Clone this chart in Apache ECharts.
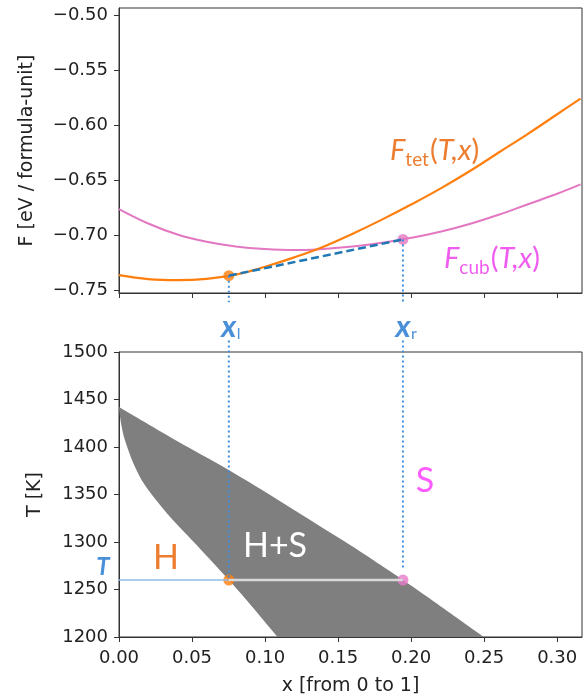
<!DOCTYPE html>
<html lang="en">
<head>
<meta charset="UTF-8">
<title>Free energy and phase diagram</title>
<script src="https://cdn.jsdelivr.net/npm/echarts@6.0.0/dist/echarts.min.js"></script>
<style>
    body { margin: 0; background: #fff; }
    #chart { width: 588px; height: 700px; }
</style>
</head>
<body>
<div id="chart"></div>
<script>
    // composition grid for the two free energy curves (top panel)
    var xs = [0, 0.02, 0.04, 0.06, 0.08, 0.10, 0.12, 0.14, 0.16, 0.18, 0.20, 0.22, 0.24, 0.26, 0.28, 0.30, 0.316];
    var fTet = [-0.7364, -0.7400, -0.7410, -0.7398, -0.7360, -0.7288, -0.7203, -0.7106, -0.6988, -0.6860,
        -0.6723, -0.6578, -0.6420, -0.6250, -0.6080, -0.5902, -0.5760];
    var fCub = [-0.6764, -0.6895, -0.6995, -0.7062, -0.7105, -0.7128, -0.7137, -0.7126, -0.7104, -0.7071,
        -0.7025, -0.6970, -0.6900, -0.6815, -0.6720, -0.6625, -0.6540];

    // edges of the two-phase region (bottom panel)
    var hEdgeX = [0, 0.0008, 0.0020, 0.0041, 0.0098, 0.0168, 0.0270, 0.0388, 0.0530, 0.0752, 0.0900, 0.1085];
    var hEdgeT = [1442, 1431, 1420, 1407, 1383, 1362, 1341, 1320, 1297, 1260, 1234, 1200];
    var sEdgeX = [0, 0.0156, 0.0400, 0.0749, 0.1103, 0.1320, 0.1561, 0.1789, 0.1944, 0.2132, 0.2315, 0.2497];
    var sEdgeT = [1442, 1428, 1406, 1376, 1343, 1322, 1299, 1276, 1260, 1240, 1220, 1200];

    // common tangent at T = 1260 K
    var xL = 0.0752, xR = 0.1944;
    var fL = -0.7370, fR = -0.7040;
    var tieT = 1260;

    var xTicks = [0, 0.05, 0.10, 0.15, 0.20, 0.25, 0.30];
    var fTicks = [-0.75, -0.70, -0.65, -0.60, -0.55, -0.50];

    var ink = '#222';
    var tickFont = 'DejaVu Sans';

    function zip(a, b) {
        var out = [];
        for (var i = 0; i < a.length; i++) out.push([a[i], b[i]]);
        return out;
    }

    var sEdge = zip(sEdgeX, sEdgeT);
    var hEdge = zip(hEdgeX, hEdgeT).reverse();
    var hull = sEdge.concat(hEdge);

    // catmull-rom through pixel points so each edge is drawn smooth, corners stay sharp
    function smoothEdge(pts, steps) {
        var out = [];
        var n = pts.length;
        for (var i = 0; i < n - 1; i++) {
            var p0 = pts[Math.max(i - 1, 0)], p1 = pts[i], p2 = pts[i + 1], p3 = pts[Math.min(i + 2, n - 1)];
            for (var k = 0; k < steps; k++) {
                var t = k / steps, t2 = t * t, t3 = t2 * t;
                var pt = [0, 1].map(function (d) {
                    return 0.5 * (2 * p1[d] + (-p0[d] + p2[d]) * t + (2 * p0[d] - 5 * p1[d] + 4 * p2[d] - p3[d]) * t2 +
                        (-p0[d] + 3 * p1[d] - 3 * p2[d] + p3[d]) * t3);
                });
                out.push(pt);
            }
        }
        out.push(pts[n - 1]);
        return out;
    }

    function xAxisFor(grid, withLabels) {
        var ax = {
            gridIndex: grid, type: 'value', min: 0, max: 0.317,
            axisLine: {show: true, onZero: false, lineStyle: {color: '#333'}},
            axisTick: {show: true, length: 5, customValues: xTicks, lineStyle: {color: '#333'}},
            axisLabel: {show: false},
            splitLine: {show: false}
        };
        if (withLabels) {
            ax.axisLabel = {
                show: true, customValues: xTicks, margin: 12,
                fontFamily: tickFont, fontSize: 18, color: ink,
                formatter: function (v) { return v.toFixed(2); }
            };
            ax.name = 'x [from 0 to 1]';
            ax.nameLocation = 'middle';
            ax.nameGap = 40;
            ax.nameTextStyle = {fontFamily: tickFont, fontSize: 19, color: ink};
        }
        return ax;
    }

    var chart = echarts.init(document.getElementById('chart'));

    var option = {
        animation: false,
        grid: [
            {left: 119, right: 6, top: 8, height: 285, show: true, borderColor: '#333', borderWidth: 1},
            {left: 119, right: 6, top: 352, height: 285, show: true, borderColor: '#333', borderWidth: 1}
        ],
        xAxis: [xAxisFor(0, false), xAxisFor(1, true)],
        yAxis: [
            {
                gridIndex: 0, type: 'value', min: -0.7527, max: -0.4936,
                axisLine: {show: true, onZero: false, lineStyle: {color: '#333'}},
                axisTick: {show: true, length: 5, customValues: fTicks, lineStyle: {color: '#333'}},
                axisLabel: {
                    customValues: fTicks, margin: 11, fontFamily: tickFont, fontSize: 18, color: ink,
                    formatter: function (v) { return v.toFixed(2).replace('-', '\u2212'); }
                },
                splitLine: {show: false},
                name: 'F [eV / formula-unit]', nameLocation: 'middle', nameGap: 82,
                nameTextStyle: {fontFamily: tickFont, fontSize: 19, color: ink}
            },
            {
                gridIndex: 1, type: 'value', min: 1200, max: 1500, interval: 50,
                axisLine: {show: true, onZero: false, lineStyle: {color: '#333'}},
                axisTick: {show: true, length: 5, lineStyle: {color: '#333'}},
                axisLabel: {
                    margin: 11, fontFamily: tickFont, fontSize: 18, color: ink,
                    formatter: function (v) { return String(v); }
                },
                splitLine: {show: false},
                name: 'T [K]', nameLocation: 'middle', nameGap: 74,
                nameTextStyle: {fontFamily: tickFont, fontSize: 19, color: ink}
            }
        ],
        series: [
            {
                type: 'custom', xAxisIndex: 1, yAxisIndex: 1, data: hull, silent: true, clip: true,
                renderItem: function (params, api) {
                    if (params.dataIndex !== 0) return null;
                    var a = smoothEdge(sEdge.map(function (p) { return api.coord(p); }), 8);
                    var b = smoothEdge(hEdge.map(function (p) { return api.coord(p); }), 8);
                    return {type: 'polygon', shape: {points: a.concat(b)}, style: {fill: '#7f7f7f'}};
                }
            },
            {
                type: 'line', xAxisIndex: 0, yAxisIndex: 0, data: zip(xs, fCub), smooth: 0.4,
                showSymbol: false, lineStyle: {color: '#e377c2', width: 2}
            },
            {
                type: 'line', xAxisIndex: 0, yAxisIndex: 0, data: zip(xs, fTet), smooth: 0.4,
                showSymbol: false, lineStyle: {color: '#ff7f0e', width: 2.2}
            },
            {
                type: 'line', xAxisIndex: 0, yAxisIndex: 0, data: [[xL, fL], [xR, fR]],
                showSymbol: false, lineStyle: {color: '#1f77b4', width: 2.5, type: [8, 4]}
            },
            // dotted guides from the tangent points down to the phase diagram
            {
                type: 'line', xAxisIndex: 0, yAxisIndex: 0, data: [[xL, fL], [xL, -0.761]], clip: false,
                showSymbol: false, lineStyle: {color: '#3f8fdc', width: 2, type: [2, 3]}
            },
            {
                type: 'line', xAxisIndex: 0, yAxisIndex: 0, data: [[xR, fR], [xR, -0.761]], clip: false,
                showSymbol: false, lineStyle: {color: '#3f8fdc', width: 2, type: [2, 3]}
            },
            {
                type: 'line', xAxisIndex: 1, yAxisIndex: 1, data: [[xL, 1512], [xL, tieT]], clip: false,
                showSymbol: false, lineStyle: {color: '#3f8fdc', width: 2, type: [2, 3]}
            },
            {
                type: 'line', xAxisIndex: 1, yAxisIndex: 1, data: [[xR, 1512], [xR, 1273]], clip: false,
                showSymbol: false, lineStyle: {color: '#3f8fdc', width: 2, type: [2, 3]}
            },
            {
                type: 'line', xAxisIndex: 1, yAxisIndex: 1, data: [[-0.011, tieT], [xL, tieT]], clip: false,
                showSymbol: false, lineStyle: {color: '#8fbbe6', width: 1.5}
            },
            {
                type: 'line', xAxisIndex: 1, yAxisIndex: 1, data: [[xL, tieT], [xR, tieT]],
                showSymbol: false, lineStyle: {color: '#d9d9d9', width: 2.5}
            },
            {
                type: 'scatter', xAxisIndex: 0, yAxisIndex: 0, data: [[xL, fL]], symbolSize: 11,
                itemStyle: {color: '#ff7f0e'}
            },
            {
                type: 'scatter', xAxisIndex: 0, yAxisIndex: 0, data: [[xR, fR]], symbolSize: 11,
                itemStyle: {color: '#e377c2'}
            },
            {
                type: 'scatter', xAxisIndex: 1, yAxisIndex: 1, data: [[xL, tieT]], symbolSize: 11,
                itemStyle: {color: '#ff7f0e'}
            },
            {
                type: 'scatter', xAxisIndex: 1, yAxisIndex: 1, data: [[xR, tieT]], symbolSize: 11,
                itemStyle: {color: '#e879c9'}
            }
        ]
    };
    chart.setOption(option);

    // annotations
    var pL = chart.convertToPixel({gridIndex: 1}, [xL, tieT]);
    var pR = chart.convertToPixel({gridIndex: 1}, [xR, tieT]);
    var blue = '#4a90d9';
    var ann = 'Lato';

    function fLabel(left, top, sub, color) {
        return {
            type: 'text', left: left, top: top, z: 100,
            style: {
                text: '{m|F}{s|' + sub + '}{u|(}{m|T,x}{u|)}',
                fill: color,
                rich: {
                    m: {fontFamily: ann, fontStyle: 'italic', fontSize: 29, lineHeight: 34, verticalAlign: 'top', fill: color},
                    u: {fontFamily: ann, fontSize: 29, lineHeight: 34, verticalAlign: 'top', fill: color},
                    s: {fontFamily: ann, fontSize: 19, lineHeight: 19, padding: [14, 1, 0, 0], verticalAlign: 'top', fill: color}
                }
            }
        };
    }

    function xLabel(px, sub) {
        return [
            {
                type: 'text', x: px, y: 327, z: 100,
                style: {text: 'x', fontFamily: ann, fontStyle: 'italic', fontWeight: 'bold', fontSize: 31,
                    fill: blue, align: 'center', verticalAlign: 'middle'}
            },
            {
                type: 'text', x: px + 8, y: 334, z: 100,
                style: {text: sub, fontFamily: ann, fontSize: 16, fill: blue, align: 'left', verticalAlign: 'middle'}
            }
        ];
    }

    chart.setOption({
        graphic: [
            fLabel(390, 136, 'tet', '#ed7d31'),
            fLabel(444, 244, 'cub', '#f05cf0')
        ].concat(xLabel(pL[0], 'l'), xLabel(pR[0], 'r'), [
            {
                type: 'text', x: 103, y: pL[1] - 13, z: 100,
                style: {text: 'T', fontFamily: ann, fontStyle: 'italic', fontWeight: 'bold', fontSize: 24,
                    fill: blue, align: 'center', verticalAlign: 'middle'}
            },
            {
                type: 'text', x: 166, y: 558, z: 100,
                style: {text: 'H', fontFamily: ann, fontSize: 34, fill: '#ed7d31', align: 'center', verticalAlign: 'middle'}
            },
            {
                type: 'text', x: 275, y: 546, z: 100,
                style: {text: 'H+S', fontFamily: ann, fontSize: 34, fill: '#ffffff', align: 'center', verticalAlign: 'middle'}
            },
            {
                type: 'text', x: 425, y: 481, z: 100,
                style: {text: 'S', fontFamily: ann, fontSize: 34, fill: '#ff5cff', align: 'center', verticalAlign: 'middle'}
            }
        ])
    });
</script>
</body>
</html>
